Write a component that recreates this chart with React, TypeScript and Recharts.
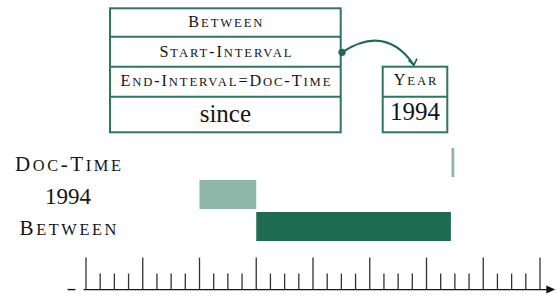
import { BarChart, Bar, XAxis, YAxis, Cell, Customized } from 'recharts'

// ==================== Data ====================

const ROWS = ['Doc-Time', '1994', 'Between']
const STARTS = [1998.44, 1994, 1995]
const ENDS = [1998.49, 1995, 1998.43]
const SHADES = ['light', 'light', 'dark']
const SMALL_CAPS_ROWS = [true, false, true]

const YEARS = [1992, 1993, 1994, 1995, 1996, 1997, 1998, 1999, 2000]
const QUARTERS = [0, 0.25, 0.5, 0.75]

// feature structure drawn above the timeline
const FS_LINES = ['Between', 'Start-Interval', 'End-Interval=Doc-Time', 'since']
const YEAR_BOX = ['Year', '1994']

const DARK = '#1f6b52'
const LIGHT = '#8eb6a8'
const BOX = '#2d7760'
const INK = '#141414'
const SERIF = "'Liberation Serif', 'Times New Roman', serif"

const TICKS = YEARS.slice(0, -1)
  .flatMap(y => QUARTERS.map(q => y + q))
  .concat(YEARS[YEARS.length - 1])

const data = ROWS.map((label, i) => ({
  label,
  span: [STARTS[i], ENDS[i]],
  shade: SHADES[i],
  caps: SMALL_CAPS_ROWS[i],
}))

// ==================== Small caps text ====================

function SmallCaps({ text, size, spacing, ...rest }: any) {
  const runs: string[] = text.match(/[a-z]+|[^a-z]+/g) ?? []
  return (
    <text {...rest} fontSize={size} fill={INK} letterSpacing={spacing} style={{ fontFamily: SERIF }}>
      {runs.map((r, i) =>
        /[a-z]/.test(r)
          ? <tspan key={i} fontSize={size * 0.78} style={{ textTransform: 'uppercase' }}>{r}</tspan>
          : <tspan key={i}>{r}</tspan>
      )}
    </text>
  )
}

// ==================== Axis ticks ====================

function XTick({ x, y, payload }: any) {
  const v = payload.value as number
  const major = Number.isInteger(v)
  const base = y + 47.6
  return (
    <g>
      {v === TICKS[0] && (
        <>
          <line x1={x - 18.4} x2={x - 10.6} y1={base} y2={base} stroke={INK} strokeWidth={1.4} />
          <line x1={x - 2.4} x2={x + 462} y1={base} y2={base} stroke={INK} strokeWidth={1.4} />
          <path d={`M${x + 469.3},${base} l-9,-4 l0,8 z`} fill={INK} />
        </>
      )}
      <line x1={x} x2={x} y1={base} y2={base - (major ? 32 : 16)} stroke="#333" strokeWidth={1.3} />
    </g>
  )
}

function YTick({ x, y, payload, index }: any) {
  const cx = x - 18
  if (!data[index]?.caps) {
    return (
      <text x={cx} y={y + 9.5} textAnchor="middle" fontSize={23} fill={INK} style={{ fontFamily: SERIF }}>
        {payload.value}
      </text>
    )
  }
  return <SmallCaps text={payload.value} size={21} spacing={2.6} x={cx + 1.3} y={y + 8.5} textAnchor="middle" />
}

// ==================== Feature structure ====================

function FeatureStructure() {
  const left = 110, right = 340.7
  const rowsY = [8.3, 36.7, 66.7, 96.7, 132.3]
  const baselines = [27.2, 56.7, 86, 121.5]
  const cx = (left + right) / 2
  const yl = 382.7, yr = 447.3
  const ycx = (yl + yr) / 2
  return (
    <g>
      <rect x={left} y={rowsY[0]} width={right - left} height={rowsY[4] - rowsY[0]} fill="none" stroke={BOX} strokeWidth={2} />
      {rowsY.slice(1, 4).map(ry => (
        <line key={ry} x1={left} x2={right} y1={ry} y2={ry} stroke={BOX} strokeWidth={2} />
      ))}
      {FS_LINES.slice(0, 3).map((t, i) => (
        <SmallCaps key={t} text={t} size={16.2} spacing={1.9} x={cx + 1} y={baselines[i]} textAnchor="middle" />
      ))}
      <text x={cx} y={baselines[3]} textAnchor="middle" fontSize={25} fill={INK} style={{ fontFamily: SERIF }}>
        {FS_LINES[3]}
      </text>

      <rect x={yl} y={rowsY[2]} width={yr - yl} height={rowsY[4] - rowsY[2]} fill="none" stroke={BOX} strokeWidth={2} />
      <line x1={yl} x2={yr} y1={rowsY[3]} y2={rowsY[3]} stroke={BOX} strokeWidth={2} />
      <SmallCaps text={YEAR_BOX[0]} size={16.2} spacing={1.9} x={ycx + 1} y={85.2} textAnchor="middle" />
      <text x={ycx} y={120.3} textAnchor="middle" fontSize={25} fill={INK} style={{ fontFamily: SERIF }}>
        {YEAR_BOX[1]}
      </text>

      {/* reentrancy arrow from Start-Interval to Year */}
      <circle cx={342} cy={52.3} r={3.6} fill={DARK} />
      <path d="M342,52.3 Q385,24 413.6,64.5" fill="none" stroke={DARK} strokeWidth={2} />
      <path d="M408.6,60 L413.8,65.3 L417,58.6" fill="none" stroke={DARK} strokeWidth={1.8} />
    </g>
  )
}

// ==================== App ====================

export default function App() {
  return (
    <div style={{ width: 558, height: 296, fontFamily: SERIF }}>
      <style>{'body{margin:0}'}</style>
      <BarChart
        width={558}
        height={296}
        data={data}
        layout="vertical"
        margin={{ top: 146, right: 18, bottom: 0, left: 0 }}
      >
        <XAxis
          type="number"
          domain={[YEARS[0], YEARS[YEARS.length - 1]]}
          ticks={TICKS}
          interval={0}
          tick={XTick}
          tickLine={false}
          axisLine={false}
          tickSize={0}
          tickMargin={0}
          height={54}
        />
        <YAxis
          type="category"
          dataKey="label"
          width={86}
          tick={YTick}
          tickLine={false}
          axisLine={false}
          tickSize={0}
          tickMargin={0}
        />
        <Bar dataKey="span" barSize={29} isAnimationActive={false}>
          {data.map(d => (
            <Cell key={d.label} fill={d.shade === 'dark' ? DARK : LIGHT} />
          ))}
        </Bar>
        <Customized component={<FeatureStructure />} />
      </BarChart>
    </div>
  )
}
